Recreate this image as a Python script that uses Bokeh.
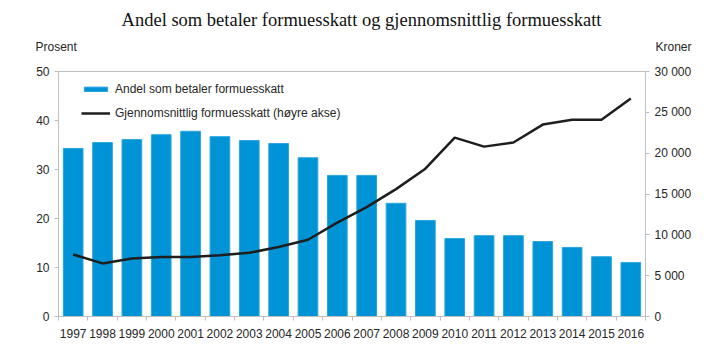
from bokeh.plotting import figure
from bokeh.layouts import column
from bokeh.models import Range1d, LinearAxis, FixedTicker, Label, Legend, LegendItem, ColumnDataSource
from bokeh.embed import file_html
from bokeh.resources import INLINE

years = list(range(1997, 2017))
andel = [34.3, 35.5, 36.1, 37.1, 37.8, 36.7, 35.9, 35.3, 32.4, 28.8,
         28.8, 23.1, 19.6, 15.9, 16.5, 16.5, 15.3, 14.1, 12.2, 11.0]
snitt = [7600, 6500, 7100, 7300, 7300, 7500, 7800, 8500, 9400, 11500,
         13400, 15600, 18100, 21900, 20800, 21300, 23500, 24100, 24100, 26700]
left_ticks = [0, 10, 20, 30, 40, 50]
right_ticks = [0, 5000, 10000, 15000, 20000, 25000, 30000]
right_tick_labels = ["0", "5 000", "10 000", "15 000", "20 000", "25 000", "30 000"]
title_text = "Andel som betaler formuesskatt og gjennomsnittlig formuesskatt"

FONT = "Liberation Sans"
TXT = "#262626"
GRAY = "#bfbfbf"
W = 723
HEAD_H = 62

# ---------- header (title and axis unit texts) ----------
head = figure(width=W, height=HEAD_H, output_backend="svg", toolbar_location=None,
              x_range=Range1d(0, W), y_range=Range1d(0, HEAD_H),
              min_border=0, min_border_left=0, min_border_right=0,
              min_border_top=0, min_border_bottom=0,
              x_axis_type=None, y_axis_type=None)
head.frame_align = False
head.outline_line_color = None
head.xgrid.visible = False
head.ygrid.visible = False
head.add_layout(Label(x=361, y=HEAD_H - 19, text=title_text, text_font="Liberation Serif",
                      text_font_size="18.5px", text_color="#111111",
                      text_align="center", text_baseline="middle"))
head.add_layout(Label(x=35, y=HEAD_H - 46, text="Prosent", text_font=FONT, text_font_size="12px",
                      text_color=TXT, text_align="left", text_baseline="middle"))
head.add_layout(Label(x=655, y=HEAD_H - 46, text="Kroner", text_font=FONT, text_font_size="12px",
                      text_color=TXT, text_align="left", text_baseline="middle"))

# ---------- main chart ----------
src = ColumnDataSource(dict(year=years, andel=andel, snitt=snitt))

p = figure(width=W, height=353 - HEAD_H, output_backend="svg", toolbar_location=None,
           x_range=Range1d(1996.5, 2016.5), y_range=Range1d(0, 50),
           min_border_left=58, min_border_right=78, min_border_top=71 - HEAD_H,
           min_border_bottom=37)
p.frame_align = False
p.extra_y_ranges = {"kr": Range1d(0, 30000)}

p.xgrid.visible = False
p.ygrid.visible = False
p.outline_line_color = GRAY
p.background_fill_color = "white"
p.border_fill_color = "white"

bars = p.vbar(x="year", top="andel", width=0.67, source=src,
              fill_color="#0093d5", line_color="#2aa5de", line_width=1)
line = p.line(x="year", y="snitt", source=src, y_range_name="kr",
              line_color="#1e1e1e", line_width=2.5)

# x axis: labels at centers, ticks at category boundaries
xa = p.xaxis[0]
xa.ticker = FixedTicker(ticks=years, minor_ticks=[y - 0.5 for y in years] + [years[-1] + 0.5])
xa.major_tick_out = 0
xa.major_tick_in = 0
xa.minor_tick_out = 4
xa.minor_tick_in = 0
xa.minor_tick_line_color = GRAY
xa.axis_line_color = GRAY
xa.major_label_text_font = FONT
xa.major_label_text_font_size = "12px"
xa.major_label_text_color = TXT
xa.major_label_standoff = 8

ya = p.yaxis[0]
ya.ticker = FixedTicker(ticks=left_ticks)
ya.minor_tick_line_color = None
ya.major_tick_out = 4
ya.major_tick_in = 0
ya.major_tick_line_color = GRAY
ya.axis_line_color = GRAY
ya.major_label_text_font = FONT
ya.major_label_text_font_size = "12px"
ya.major_label_text_color = TXT
ya.major_label_standoff = 5

ra = LinearAxis(y_range_name="kr", ticker=FixedTicker(ticks=right_ticks))
ra.major_label_overrides = {t: l for t, l in zip(right_ticks, right_tick_labels)}
ra.minor_tick_line_color = None
ra.major_tick_out = 4
ra.major_tick_in = 0
ra.major_tick_line_color = GRAY
ra.axis_line_color = GRAY
ra.major_label_text_font = FONT
ra.major_label_text_font_size = "12px"
ra.major_label_text_color = TXT
ra.major_label_standoff = 5
p.add_layout(ra, "right")

legend = Legend(items=[LegendItem(label="Andel som betaler formuesskatt", renderers=[bars]),
                       LegendItem(label="Gjennomsnittlig formuesskatt (høyre akse)", renderers=[line])],
                location=(23, 193), border_line_color=None, background_fill_alpha=0,
                glyph_width=29, glyph_height=6, label_height=20, label_standoff=5,
                padding=0, margin=0, spacing=4, label_text_font=FONT,
                label_text_font_size="12px", label_text_color=TXT)
p.add_layout(legend)

layout = column(head, p, spacing=0)
open("out.html", "w").write(file_html(layout, INLINE))
